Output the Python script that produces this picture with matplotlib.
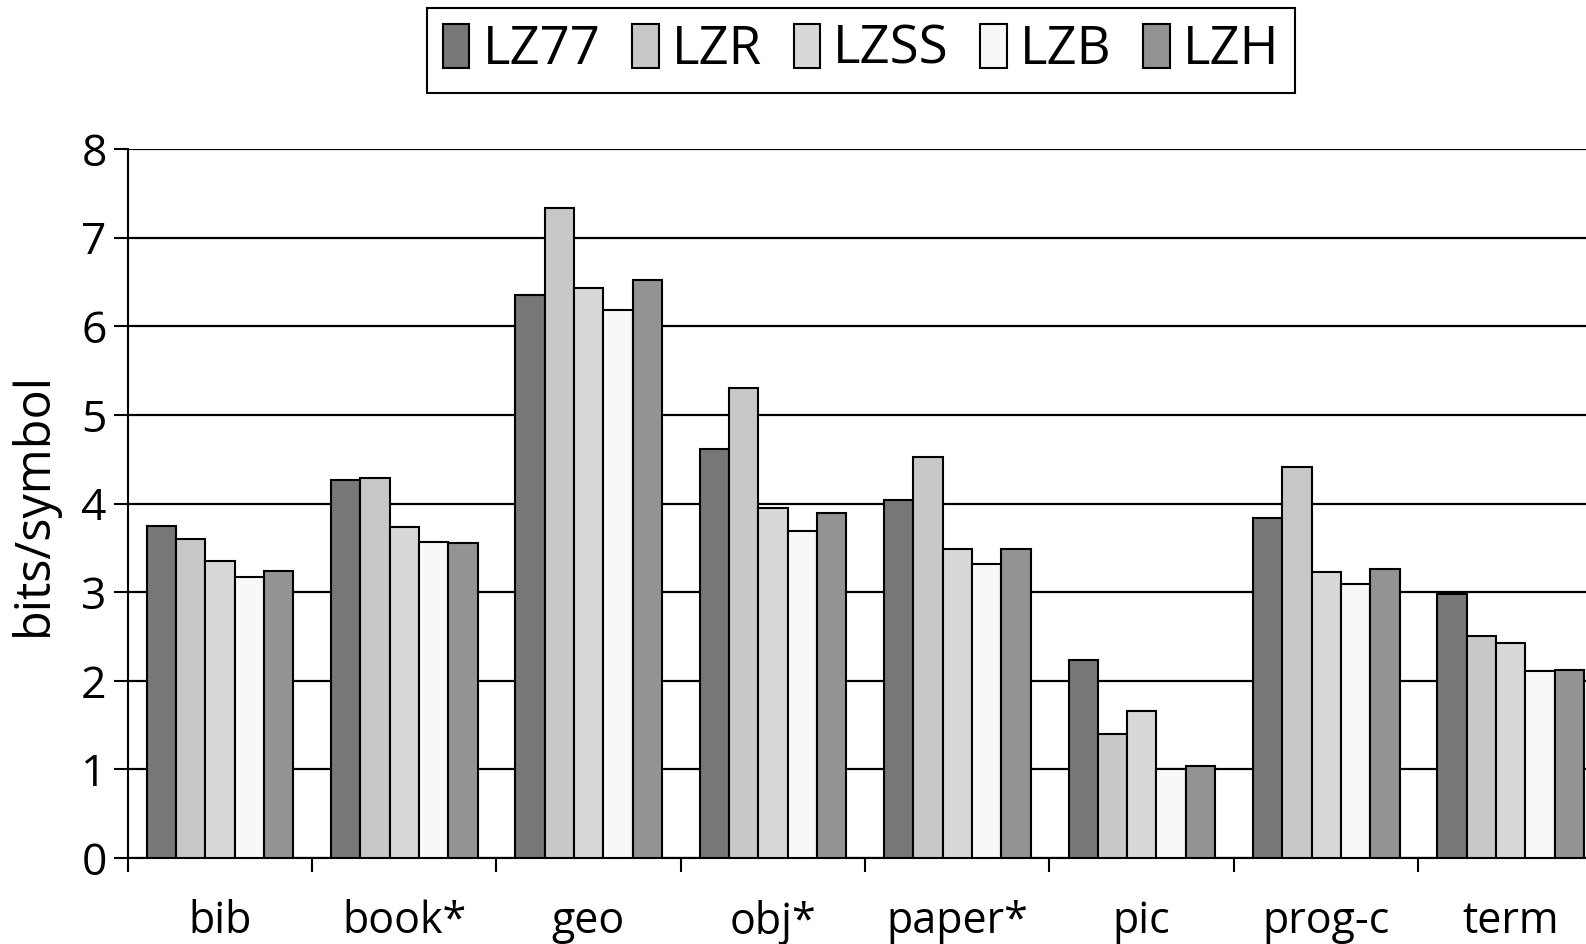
import numpy as np
import matplotlib.pyplot as plt
from matplotlib.patches import Patch

files = ['bib', 'book*', 'geo', 'obj*', 'paper*', 'pic', 'prog-c', 'term']
methods = ['LZ77', 'LZR', 'LZSS', 'LZB', 'LZH']

lz77 = [3.75, 4.26, 6.35, 4.61, 4.04, 2.23, 3.84, 2.98]
lzr = [3.60, 4.29, 7.34, 5.30, 4.52, 1.40, 4.41, 2.50]
lzss = [3.35, 3.74, 6.43, 3.95, 3.49, 1.66, 3.23, 2.43]
lzb = [3.17, 3.57, 6.18, 3.69, 3.32, 1.00, 3.09, 2.11]
lzh = [3.24, 3.55, 6.52, 3.89, 3.49, 1.04, 3.26, 2.12]

colors = ['#777777', '#c8c8c8', '#d8d8d8', '#f8f8f8', '#939393']
series = [lz77, lzr, lzss, lzb, lzh]

plt.rcParams['font.family'] = ['Open Sans', 'DejaVu Sans']

fig = plt.figure(figsize=(15.86, 9.44), dpi=100)
ax = fig.add_axes([0.0804, 0.0911, 0.930, 0.751])

x = np.arange(len(files))
w = 0.159
off = 0.104
for j, vals in enumerate(series):
    ax.bar(x + off + j * w, vals, width=w, align='edge', color=colors[j],
           edgecolor='black', linewidth=1.5, zorder=3)

ax.set_xlim(0, 8)
ax.set_ylim(0, 8)
ax.set_yticks(range(0, 9))
ax.yaxis.grid(True, color='black', linewidth=1.6, zorder=0)
ax.set_axisbelow(True)

# ticks between groups, labels centred under groups
ax.set_xticks(x)
ax.set_xticklabels([])
ax.set_xticks(x + 0.5, minor=True)
ax.set_xticklabels(files, minor=True)
ax.tick_params(axis='x', which='major', direction='out', length=10, width=1.5)
ax.tick_params(axis='x', which='minor', length=0, pad=30, labelsize=31)
ax.tick_params(axis='y', direction='out', length=10, width=1.5, labelsize=32, pad=5)

for s in ['top', 'right']:
    ax.spines[s].set_visible(False)
ax.spines['left'].set_linewidth(1.5)
ax.spines['bottom'].set_linewidth(1.5)

ax.set_ylabel('bits/symbol', fontsize=35, labelpad=16)

handles = [Patch(facecolor=c, edgecolor='black', linewidth=1.5) for c in colors]
leg = fig.legend(handles, methods, loc='upper center', bbox_to_anchor=(0.543, 0.992),
                 ncol=5, frameon=True, fancybox=False, framealpha=1,
                 edgecolor='black', handlelength=0.5, handleheight=0.9,
                 handletextpad=0.25, columnspacing=0.6, borderpad=0.3,
                 borderaxespad=0, prop={'size': 38})
leg.get_frame().set_linewidth(1.5)

fig.savefig('out.png', dpi=100)
